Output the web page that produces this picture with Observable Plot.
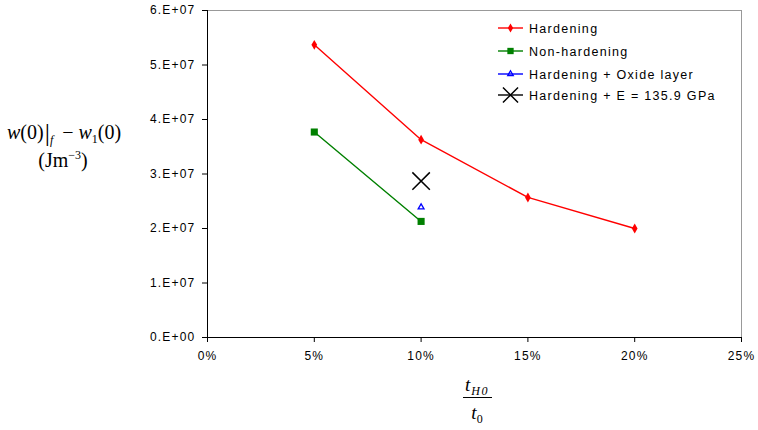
<!DOCTYPE html>
<html>
<head>
<meta charset="utf-8">
<script src="https://cdn.jsdelivr.net/npm/d3@7"></script>
<script src="https://cdn.jsdelivr.net/npm/@observablehq/plot@0.6"></script>
<style>
  html, body { margin: 0; padding: 0; background: #fff; }
  #chart { width: 758px; height: 430px; }
  svg text { font-family: "Liberation Sans", Arial, sans-serif; }
</style>
</head>
<body>
<div id="chart"></div>
<script>
// ---- data ----
const hardeningX = [0.05, 0.10, 0.15, 0.20];
const hardeningY = [5.37e7, 3.63e7, 2.57e7, 2.0e7];
const nonHardeningX = [0.05, 0.10];
const nonHardeningY = [3.77e7, 2.13e7];
const oxideX = [0.10];
const oxideY = [2.39e7];
const modulusX = [0.10];
const modulusY = [2.87e7];
const xTicks = [0, 0.05, 0.10, 0.15, 0.20, 0.25];
const yTicks = [0, 1e7, 2e7, 3e7, 4e7, 5e7, 6e7];
const seriesNames = ["Hardening", "Non-hardening", "Hardening + Oxide layer", "Hardening + E = 135.9 GPa"];
const seriesColors = ["#ff0000", "#008000", "#0000ff", "#000000"];

const zip = (xs, ys) => xs.map((x, i) => ({x, y: ys[i]}));
const hard = zip(hardeningX, hardeningY);
const nonHard = zip(nonHardeningX, nonHardeningY);
const oxide = zip(oxideX, oxideY);
const modulus = zip(modulusX, modulusY);

const W = 758, H = 430;
const mL = 207, mR = 17, mT = 10, mB = 93;

const yFmt = d => d === 0 ? "0.E+00" : Math.round(d / 1e7) + ".E+07";
const xFmt = d => Math.round(d * 100) + "%";

const plot = Plot.plot({
  width: W, height: H,
  marginLeft: mL, marginRight: mR, marginTop: mT, marginBottom: mB,
  style: {fontFamily: "Liberation Sans, Arial, sans-serif", fontSize: "12px", background: "#fff", overflow: "visible"},
  x: {domain: [0, 0.25], ticks: xTicks, tickFormat: xFmt, label: null, tickSize: 5, tickPadding: 9},
  y: {domain: [0, 6e7], ticks: yTicks, tickFormat: yFmt, label: null, tickSize: 5, tickPadding: 7},
  marks: [
    Plot.ruleY([6e7], {stroke: "#999", strokeWidth: 1}),
    Plot.ruleX([0.25], {stroke: "#999", strokeWidth: 1}),
    Plot.ruleX([0], {stroke: "#000", strokeWidth: 1}),
    Plot.ruleY([0], {stroke: "#000", strokeWidth: 1}),
    Plot.line(hard, {x: "x", y: "y", stroke: seriesColors[0], strokeWidth: 1.4}),
    Plot.dot(hard, {x: "x", y: "y", symbol: "diamond", fill: seriesColors[0], r: 3}),
    Plot.line(nonHard, {x: "x", y: "y", stroke: seriesColors[1], strokeWidth: 1.4}),
    Plot.dot(nonHard, {x: "x", y: "y", symbol: "square", fill: seriesColors[1], r: 4}),
    Plot.dot(oxide, {x: "x", y: "y", symbol: "triangle2", stroke: seriesColors[2], strokeWidth: 1.3, r: 2.8}),
    Plot.dot(modulus, {x: "x", y: "y", symbol: "times", stroke: seriesColors[3], strokeWidth: 1.5, r: 8})
  ]
});
document.getElementById("chart").appendChild(plot);

const svg = d3.select(plot);
svg.selectAll("g[aria-label='x-axis tick label'] text, g[aria-label='y-axis tick label'] text")
  .style("letter-spacing", "1.2px").attr("fill", "#000");
svg.selectAll("g[aria-label='x-axis tick'] path, g[aria-label='y-axis tick'] path").attr("stroke", "#000");

// ---- legend ----
const legendSymbols = ["diamond", "square", "triangle2", "times"];
const symMap = {diamond: d3.symbolDiamond, square: d3.symbolSquare, triangle2: d3.symbolTriangle2, times: d3.symbolTimes};
const symSize = [24, 40, 22, 150];
const lg = svg.append("g").attr("class", "legend");
const rowY = [28, 51, 74, 95];
seriesNames.forEach((name, i) => {
  const y = rowY[i];
  lg.append("line").attr("x1", 498).attr("x2", 523).attr("y1", y).attr("y2", y)
    .attr("stroke", seriesColors[i]).attr("stroke-width", 1.4);
  const filled = i < 2;
  lg.append("path").attr("transform", `translate(510.5,${y})`)
    .attr("d", d3.symbol(symMap[legendSymbols[i]], symSize[i])())
    .attr("fill", filled ? seriesColors[i] : "none")
    .attr("stroke", filled ? "none" : seriesColors[i])
    .attr("stroke-width", i === 3 ? 1.5 : 1.3);
  lg.append("text").attr("x", 529).attr("y", y + 4.5).attr("text-anchor", "start").text(name)
    .style("font-size", "12.5px").style("letter-spacing", "1.3px").attr("fill", "#000");
});

// ---- y-axis title ----
const serif = "Liberation Serif, 'Times New Roman', serif";
const yt = svg.append("text").attr("x", 7).attr("y", 139).attr("text-anchor", "start")
  .style("font-family", serif).style("font-size", "20px").attr("fill", "#000");
yt.append("tspan").style("font-style", "italic").text("w");
yt.append("tspan").text("(0)");
yt.append("tspan").attr("dx", 1).style("font-size", "26px").attr("dy", 2).text("|");
yt.append("tspan").style("font-style", "italic").style("font-size", "12px").attr("dy", 3).text("f");
yt.append("tspan").attr("dy", -5).attr("dx", 9).text("− ");
yt.append("tspan").style("font-style", "italic").text("w");
yt.append("tspan").style("font-size", "12px").attr("dy", 4).text("1");
yt.append("tspan").attr("dy", -4).text("(0)");
const yu = svg.append("text").attr("x", 63).attr("y", 167).attr("text-anchor", "middle")
  .style("font-family", serif).style("font-size", "20px").attr("fill", "#000");
yu.append("tspan").text("(Jm");
yu.append("tspan").style("font-size", "12px").attr("dy", -8).text("−3");
yu.append("tspan").attr("dy", 8).text(")");

// ---- x-axis title (fraction) ----
const cx = 477;
const xt = svg.append("text").attr("x", cx).attr("y", 391).attr("text-anchor", "middle")
  .style("font-family", serif).style("font-size", "19px").attr("fill", "#000");
xt.append("tspan").style("font-style", "italic").text("t");
xt.append("tspan").style("font-style", "italic").style("font-size", "12px").style("letter-spacing", "1.5px").attr("dx", 1).attr("dy", 4).text("H0");
svg.append("line").attr("x1", cx - 14).attr("x2", cx + 15).attr("y1", 397.5).attr("y2", 397.5)
  .attr("stroke", "#000").attr("stroke-width", 1);
const xb = svg.append("text").attr("x", cx).attr("y", 419).attr("text-anchor", "middle")
  .style("font-family", serif).style("font-size", "19px").attr("fill", "#000");
xb.append("tspan").style("font-style", "italic").text("t");
xb.append("tspan").style("font-size", "12px").attr("dy", 4).text("0");
</script>
</body>
</html>
